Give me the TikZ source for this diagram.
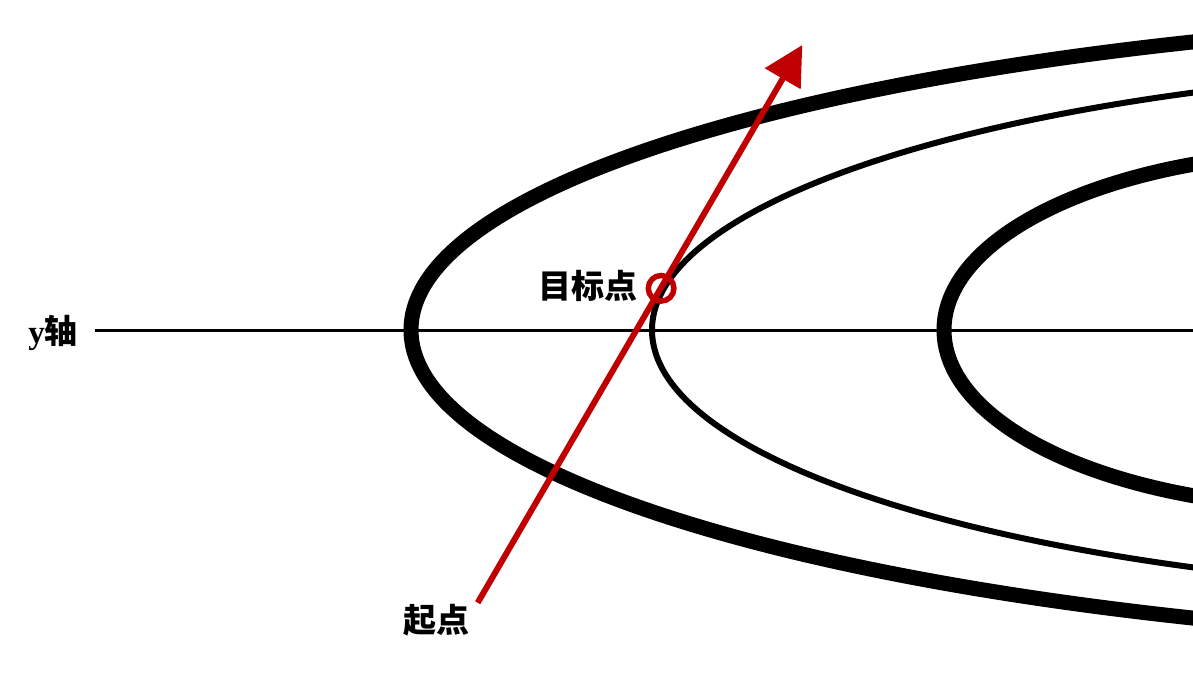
\documentclass[tikz,border=0pt]{standalone}
\usepackage{fontspec}
\setmainfont{Liberation Serif}
\newfontfamily\cjk{Noto Sans CJK SC}
\usetikzlibrary{arrows.meta}
\definecolor{arrowred}{RGB}{192,0,0}
\tikzset{
  thickring/.style={draw=black, line width=15pt},
  thinring/.style={draw=black, line width=6pt},
  axisline/.style={draw=black, line width=3pt},
  redarrow/.style={draw=arrowred, line width=6pt, -{Triangle[length=39pt,width=40pt]}},
  targetring/.style={circle, draw=arrowred, line width=5.5pt, minimum size=25.6pt, inner sep=0pt},
  lbl/.style={inner sep=0pt, font=\fontsize{33pt}{36pt}\selectfont\bfseries}
}
\begin{document}
\begin{tikzpicture}[x=1pt, y=-1pt]
\useasboundingbox (0,0) rectangle (1193,672);
\begin{scope}
  \clip (0,0) rectangle (1193,672);
  \coordinate (axL) at (95,330);
  \coordinate (axR) at (1200,330);
  \draw[axisline] (axL) -- (axR);
  \draw[thickring] (1733,330) ellipse [x radius=1322pt, y radius=315.5pt];
  \draw[thinring] (1615,330) ellipse [x radius=963pt, y radius=264pt];
  \draw[thickring] (1337,330) ellipse [x radius=393pt, y radius=178pt];
\end{scope}
\node[lbl] (ylabel) at (53,333) {y{\cjk 轴}};
\node[lbl] (target) at (588,286) {\cjk 目标点};
\node[lbl] (start) at (436,620) {\cjk 起点};
\coordinate (s) at (477.7,602.7);
\coordinate (t) at (802.3,45);
\draw[redarrow] (s) -- (t);
\node[targetring] (tgt) at (661.1,288.3) {};
\end{tikzpicture}
\end{document}
